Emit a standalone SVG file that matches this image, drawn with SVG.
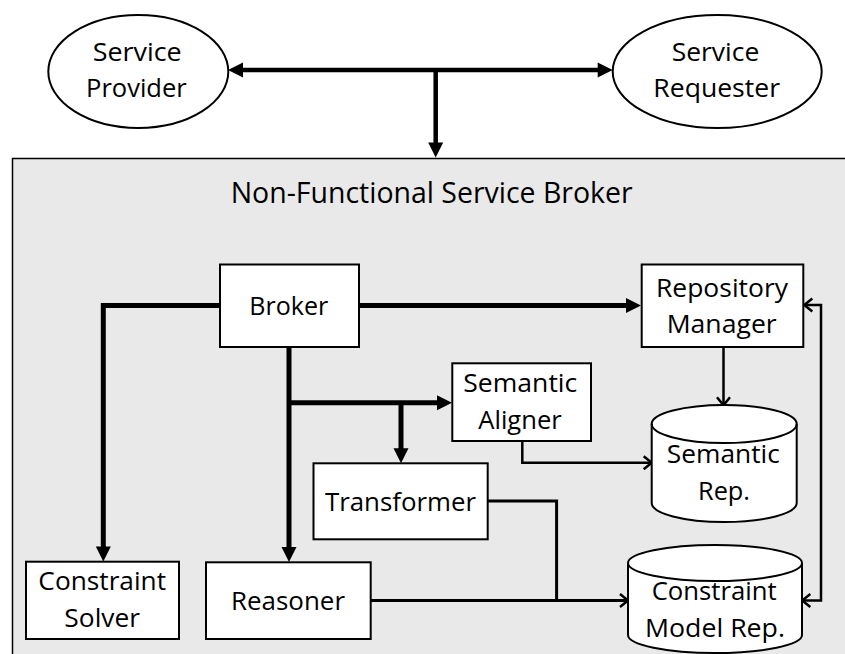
<svg xmlns="http://www.w3.org/2000/svg" width="845" height="654" viewBox="0 0 845 654">
<style>
.bg{fill:#e9e9e9;stroke:#000;stroke-width:1.5}
.box{fill:#fff;stroke:#000;stroke-width:2}
.lbl{font-family:"Open Sans","Liberation Sans",sans-serif;font-size:25.5px;fill:#000;text-anchor:middle}
.title{font-family:"Open Sans","Liberation Sans",sans-serif;font-size:29px;fill:#000;text-anchor:middle}
.thick{fill:none;stroke:#000;stroke-width:5;stroke-linejoin:miter}
.thin{fill:none;stroke:#000;stroke-width:2.5;stroke-linejoin:miter}
.mid{fill:none;stroke:#000;stroke-width:3;stroke-linejoin:miter}
</style>
<defs>
<marker id="fa" markerUnits="userSpaceOnUse" markerWidth="16" markerHeight="16" refX="9" refY="7.5" orient="auto-start-reverse" overflow="visible">
<path d="M0,0 L15,7.5 L0,15 z" fill="#000"/>
</marker>
<marker id="oa" markerUnits="userSpaceOnUse" markerWidth="12" markerHeight="14" refX="7" refY="6.5" orient="auto-start-reverse" overflow="visible">
<path d="M0,0 L8,6.5 L0,13" fill="none" stroke="#000" stroke-width="2.5"/>
</marker>
</defs>

<rect class="bg" x="12.5" y="158.5" width="850" height="520"/>
<text class="title" x="431.7" y="203.3" textLength="402" lengthAdjust="spacingAndGlyphs">Non-Functional Service Broker</text>

<g id="connectors">
<path class="thick" d="M234,70 L606.7,70" marker-start="url(#fa)" marker-end="url(#fa)" style="stroke-width:4.5"/>
<path class="thick" d="M435.7,70 L435.7,151.5" marker-end="url(#fa)" style="stroke-width:4.5"/>
<path class="thick" d="M359,305.5 L635,305.5" marker-end="url(#fa)"/>
<path class="thick" d="M220,305.5 L103.3,305.5 L103.3,555.5" marker-end="url(#fa)"/>
<path class="thick" d="M289,347 L289,556" marker-end="url(#fa)"/>
<path class="thick" d="M289,402.7 L446,402.7" marker-end="url(#fa)"/>
<path class="thick" d="M401,402.7 L401,457.3" marker-end="url(#fa)"/>
<path class="thin" d="M723.5,347.3 L723.5,404.3" marker-end="url(#oa)"/>
<path class="thin" d="M522.3,441 L522.3,462.7 L650.7,462.7" marker-end="url(#oa)"/>
<path class="mid" d="M487.7,501 L556.6,501 L556.6,600.5"/>
<path class="mid" d="M370.7,600.5 L627,600.5" marker-end="url(#oa)"/>
<path class="thin" d="M805.3,305 L821,305 L821,600.5 L803.3,600.5" marker-start="url(#oa)" marker-end="url(#oa)"/>
</g>

<g id="service-provider">
<ellipse class="box" cx="138.3" cy="71.5" rx="90" ry="56.5"/>
<text class="lbl" x="137.2" y="60.7" textLength="89" lengthAdjust="spacingAndGlyphs">Service</text>
<text class="lbl" x="136.4" y="97.3" textLength="100.7" lengthAdjust="spacingAndGlyphs">Provider</text>
</g>

<g id="service-requester">
<ellipse class="box" cx="717.2" cy="71.5" rx="104.5" ry="56.5"/>
<text class="lbl" x="715.5" y="60.7" textLength="87.6" lengthAdjust="spacingAndGlyphs">Service</text>
<text class="lbl" x="716.7" y="97.3" textLength="126.7" lengthAdjust="spacingAndGlyphs">Requester</text>
</g>

<g id="broker">
<rect class="box" x="220" y="264.5" width="139" height="82.5"/>
<text class="lbl" x="288.8" y="315" textLength="79" lengthAdjust="spacingAndGlyphs">Broker</text>
</g>

<g id="repository-manager">
<rect class="box" x="641.7" y="264.5" width="161.6" height="82.5"/>
<text class="lbl" x="722" y="296.7" textLength="132" lengthAdjust="spacingAndGlyphs">Repository</text>
<text class="lbl" x="721.7" y="333.3" textLength="110" lengthAdjust="spacingAndGlyphs">Manager</text>
</g>

<g id="semantic-aligner">
<rect class="box" x="452.3" y="363.3" width="138.7" height="77.7"/>
<text class="lbl" x="520.3" y="391.7" textLength="114" lengthAdjust="spacingAndGlyphs">Semantic</text>
<text class="lbl" x="520" y="428.5" textLength="83.4" lengthAdjust="spacingAndGlyphs">Aligner</text>
</g>

<g id="transformer">
<rect class="box" x="313.5" y="463.3" width="174.2" height="76"/>
<text class="lbl" x="400.5" y="511" textLength="151" lengthAdjust="spacingAndGlyphs">Transformer</text>
</g>

<g id="semantic-rep">
<path class="box" d="M651.7,424 A72.5,19 0 0 1 796.7,424 L796.7,503 A72.5,19 0 0 1 651.7,503 Z"/>
<path class="box" d="M651.7,424 A72.5,19 0 0 0 796.7,424" style="fill:none"/>
<text class="lbl" x="723.3" y="462.7" textLength="113" lengthAdjust="spacingAndGlyphs">Semantic</text>
<text class="lbl" x="724" y="500" textLength="52" lengthAdjust="spacingAndGlyphs">Rep.</text>
</g>

<g id="constraint-solver">
<rect class="box" x="26" y="561.7" width="153" height="77.3"/>
<text class="lbl" x="102.2" y="590" textLength="127.7" lengthAdjust="spacingAndGlyphs">Constraint</text>
<text class="lbl" x="102.2" y="626.7" textLength="75.7" lengthAdjust="spacingAndGlyphs">Solver</text>
</g>

<g id="reasoner">
<rect class="box" x="206" y="562.3" width="164.7" height="76.7"/>
<text class="lbl" x="288" y="610" textLength="114" lengthAdjust="spacingAndGlyphs">Reasoner</text>
</g>

<g id="constraint-model-rep">
<path class="box" d="M628,563 A87,18 0 0 1 802,563 L802,635 A87,18 0 0 1 628,635 Z"/>
<path class="box" d="M628,563 A87,18 0 0 0 802,563" style="fill:none"/>
<text class="lbl" x="714.2" y="600" textLength="125" lengthAdjust="spacingAndGlyphs">Constraint</text>
<text class="lbl" x="715" y="636.7" textLength="140" lengthAdjust="spacingAndGlyphs">Model Rep.</text>
</g>
</svg>
